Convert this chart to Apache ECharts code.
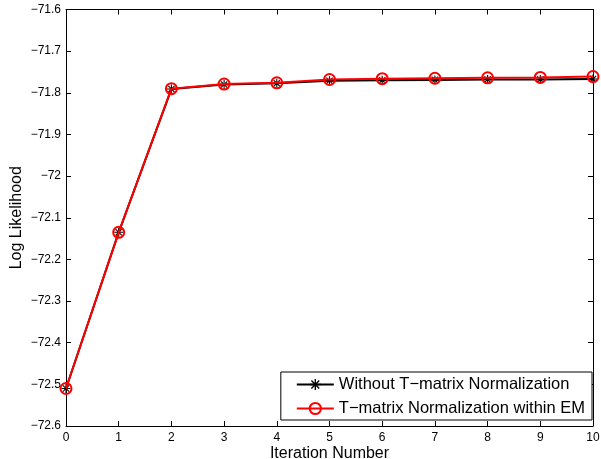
<!DOCTYPE html>
<html>
<head>
<meta charset="utf-8">
<script src="https://cdn.jsdelivr.net/npm/echarts@6/dist/echarts.min.js"></script>
<style>
html,body{margin:0;padding:0;background:#fff;}
#chart{width:601px;height:459px;}
</style>
</head>
<body>
<div id="chart"></div>
<script>
var iterations = [0, 1, 2, 3, 4, 5, 6, 7, 8, 9, 10];
var withoutNormalization = [-72.51, -72.135, -71.791, -71.780, -71.777, -71.771, -71.770, -71.769, -71.768, -71.768, -71.767];
var withinEM = [-72.51, -72.135, -71.790, -71.779, -71.776, -71.768, -71.766, -71.765, -71.764, -71.763, -71.761];
var seriesNames = ['Without T\u2212matrix Normalization', 'T\u2212matrix Normalization within EM'];
var xTicks = { min: 0, max: 10, step: 1 };
var yTicks = { min: -72.6, max: -71.6, step: 0.1 };
var xName = 'Iteration Number';
var yName = 'Log Likelihood';

var FONT = '"Liberation Sans", Arial, Helvetica, sans-serif';
var asterisk = 'path://M0 44 L100 44 L100 56 L0 56 Z M44 0 L56 0 L56 100 L44 100 Z ' +
  'M19.2 10.8 L89.2 80.8 L80.8 89.2 L10.8 19.2 Z M89.2 19.2 L19.2 89.2 L10.8 80.8 L80.8 10.8 Z';

function fmtY(v) {
  var r = Math.round(v * 10) / 10;
  var s = (Math.abs(r - Math.round(r)) < 1e-9) ? String(Math.round(r)) : r.toFixed(1);
  return s.replace('-', '\u2212');
}

function pairs(ys) {
  return iterations.map(function (x, i) { return [x, ys[i]]; });
}

var baseAxis = {
  axisLine: { show: true, onZero: false, lineStyle: { color: '#000', width: 1 } },
  axisTick: { show: true, inside: true, length: 5, lineStyle: { color: '#000' } },
  splitLine: { show: false },
  axisLabel: { color: '#000', fontSize: 12, fontFamily: FONT, margin: 5 }
};

var chart = echarts.init(document.getElementById('chart'), null, { renderer: 'canvas' });
chart.setOption({
  backgroundColor: '#fff',
  animation: false,
  textStyle: { fontFamily: FONT },
  grid: { left: 66, right: 8, top: 9.5, bottom: 33, containLabel: false, outerBoundsMode: 'none' },
  xAxis: [
    Object.assign({}, baseAxis, {
      type: 'value', position: 'bottom', min: xTicks.min, max: xTicks.max, interval: xTicks.step,
      name: xName, nameLocation: 'middle', nameGap: 20, nameMoveOverlap: false,
      nameTextStyle: { color: '#000', fontSize: 16, fontFamily: FONT },
      axisLabel: Object.assign({}, baseAxis.axisLabel, { margin: 6, showMinLabel: true, showMaxLabel: true })
    }),
    Object.assign({}, baseAxis, {
      type: 'value', position: 'top', min: xTicks.min, max: xTicks.max, interval: xTicks.step,
      axisLabel: { show: false }
    })
  ],
  yAxis: [
    Object.assign({}, baseAxis, {
      type: 'value', position: 'left', min: yTicks.min, max: yTicks.max, interval: yTicks.step,
      name: yName, nameLocation: 'middle', nameGap: 41, nameRotate: 90, nameMoveOverlap: false,
      nameTextStyle: { color: '#000', fontSize: 16, fontFamily: FONT },
      axisLabel: Object.assign({}, baseAxis.axisLabel, { formatter: fmtY, showMinLabel: true, showMaxLabel: true })
    }),
    Object.assign({}, baseAxis, {
      type: 'value', position: 'right', min: yTicks.min, max: yTicks.max, interval: yTicks.step,
      axisLabel: { show: false }
    })
  ],
  legend: {
    orient: 'vertical',
    right: 9,
    bottom: 39,
    backgroundColor: '#fff',
    borderColor: '#000',
    borderWidth: 1,
    borderRadius: 0,
    padding: [4, 7, 3, 15],
    itemWidth: 37,
    itemHeight: 14,
    itemGap: 7,
    textStyle: { color: '#000', fontSize: 16.5, fontFamily: FONT, lineHeight: 16 },
    data: seriesNames
  },
  series: [
    {
      name: seriesNames[0],
      type: 'line',
      xAxisIndex: 0, yAxisIndex: 0,
      data: pairs(withoutNormalization),
      symbol: asterisk,
      symbolSize: 9,
      showAllSymbol: true,
      lineStyle: { color: '#000', width: 2 },
      itemStyle: { color: '#000' },
      z: 2
    },
    {
      name: seriesNames[1],
      type: 'line',
      xAxisIndex: 0, yAxisIndex: 0,
      data: pairs(withinEM),
      symbol: 'circle',
      symbolSize: 11,
      showAllSymbol: true,
      lineStyle: { color: '#ff0000', width: 2 },
      itemStyle: { color: 'rgba(0,0,0,0)', borderColor: '#ff0000', borderWidth: 2 },
      z: 3
    }
  ]
});
</script>
</body>
</html>
